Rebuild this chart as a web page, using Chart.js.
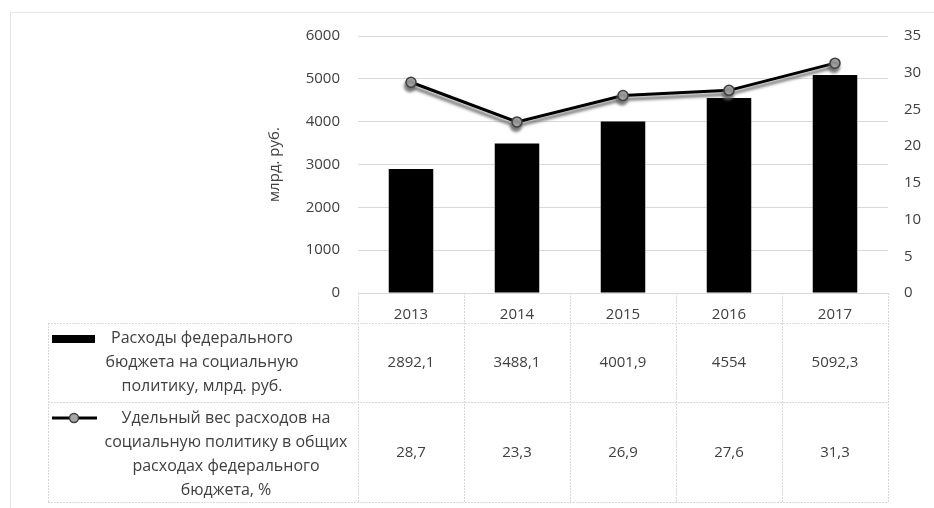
<!DOCTYPE html>
<html>
<head>
<meta charset="utf-8">
<script src="https://cdn.jsdelivr.net/npm/chart.js@4"></script>
<style>
  body { margin: 0; background: #fff; }
  #wrap { position: relative; width: 934px; height: 508px; }
</style>
</head>
<body>
<div id="wrap"><canvas id="chart" width="934" height="508"></canvas></div>
<script>
const years = ['2013', '2014', '2015', '2016', '2017'];
const spending = [2892.1, 3488.1, 4001.9, 4554, 5092.3];
const share = [28.7, 23.3, 26.9, 27.6, 31.3];
const spendingLabel = ['Расходы федерального', 'бюджета на социальную', 'политику, млрд. руб.'];
const shareLabel = ['Удельный вес расходов на', 'социальную политику в общих', 'расходах федерального', 'бюджета, %'];

const textColor = '#404040';
const gridColor = '#d9d9d9';
const font = '"Open Sans", "Liberation Sans", sans-serif';

function fmt(v) {
  return String(v).replace('.', ',');
}

// line with grey drop shadow, like the Excel original
const shadowPlugin = {
  id: 'lineShadow',
  beforeDatasetDraw(chart, args) {
    if (args.index !== 1) return;
    const ctx = chart.ctx;
    ctx.save();
    ctx.shadowColor = 'rgba(100,100,100,0.9)';
    ctx.shadowOffsetX = -1;
    ctx.shadowOffsetY = 4;
    ctx.shadowBlur = 3;
  },
  afterDatasetDraw(chart, args) {
    if (args.index !== 1) return;
    chart.ctx.restore();
  }
};

// data table under the plot
const tablePlugin = {
  id: 'dataTable',
  afterDraw(chart) {
    const ctx = chart.ctx;
    const x = chart.scales.x;
    const area = chart.chartArea;
    const left = 48;
    const rowTop = area.bottom + 30;
    const rowMid = rowTop + 79;
    const rowBot = rowMid + 100;
    const step = x.getPixelForValue(1) - x.getPixelForValue(0);

    ctx.save();
    // outer frame
    ctx.strokeStyle = '#e6e6e6';
    ctx.lineWidth = 1;
    ctx.strokeRect(10.5, 12.5, 940, 520);

    ctx.strokeStyle = gridColor;
    ctx.setLineDash([2, 1]);
    ctx.beginPath();
    for (let i = 0; i <= years.length; i++) {
      const px = Math.round(x.getPixelForValue(i) - step / 2) + 0.5;
      ctx.moveTo(px, area.bottom);
      ctx.lineTo(px, rowBot);
    }
    ctx.moveTo(left + 0.5, rowTop);
    ctx.lineTo(left + 0.5, rowBot);
    [rowTop, rowMid, rowBot].forEach(y => {
      ctx.moveTo(left, y + 0.5);
      ctx.lineTo(area.right, y + 0.5);
    });
    ctx.stroke();
    ctx.setLineDash([]);

    ctx.fillStyle = textColor;
    ctx.font = '15px ' + font;
    ctx.textAlign = 'center';
    ctx.textBaseline = 'middle';
    spending.forEach((v, i) => ctx.fillText(fmt(v), x.getPixelForValue(i), rowTop + 40));
    share.forEach((v, i) => ctx.fillText(fmt(v), x.getPixelForValue(i), rowMid + 51));

    ctx.font = '16px ' + font;
    spendingLabel.forEach((t, i) => ctx.fillText(t, 202, rowTop + 15 + i * 24));
    shareLabel.forEach((t, i) => ctx.fillText(t, 226, rowMid + 16 + i * 24));

    // legend keys
    ctx.fillStyle = '#000';
    ctx.fillRect(52, rowTop + 12, 43, 8);
    const ky = rowMid + 16;
    ctx.strokeStyle = '#000';
    ctx.lineWidth = 3;
    ctx.beginPath();
    ctx.moveTo(52, ky);
    ctx.lineTo(97, ky);
    ctx.stroke();
    ctx.beginPath();
    ctx.arc(74, ky, 4.5, 0, Math.PI * 2);
    ctx.fillStyle = '#a6a6a6';
    ctx.fill();
    ctx.lineWidth = 1.5;
    ctx.strokeStyle = '#404040';
    ctx.stroke();
    ctx.restore();
  }
};

const tickFont = { size: 15, family: font };

new Chart(document.getElementById('chart'), {
  data: {
    labels: years,
    datasets: [
      {
        type: 'bar',
        label: spendingLabel.join(' '),
        data: spending,
        backgroundColor: '#000',
        yAxisID: 'y',
        barPercentage: 0.42,
        categoryPercentage: 1,
        order: 2
      },
      {
        type: 'line',
        label: shareLabel.join(' '),
        data: share,
        borderColor: '#000',
        borderWidth: 3,
        pointRadius: 5,
        pointBackgroundColor: '#a6a6a6',
        pointBorderColor: '#404040',
        pointBorderWidth: 1.5,
        yAxisID: 'y1',
        order: 1
      }
    ]
  },
  options: {
    responsive: false,
    animation: false,
    layout: { padding: { left: 266, top: 36, right: 0, bottom: 0 } },
    plugins: { legend: { display: false }, tooltip: { enabled: false } },
    scales: {
      x: {
        grid: { display: false },
        border: { color: gridColor },
        ticks: { color: textColor, font: tickFont, padding: 5 },
        afterFit(scale) { scale.height = 508 - 293; }
      },
      y: {
        position: 'left',
        min: 0, max: 6000,
        ticks: { stepSize: 1000, color: textColor, font: tickFont, padding: 18, callback: v => String(v) },
        grid: { color: gridColor, drawTicks: false },
        border: { display: false },
        title: { display: true, text: 'млрд. руб.', color: textColor, font: { size: 15, family: font }, padding: { top: 0, bottom: 0 } },
        afterFit(scale) { scale.width = 358 - 266; }
      },
      y1: {
        position: 'right',
        min: 0, max: 35,
        ticks: { stepSize: 5, color: textColor, font: tickFont, padding: 16 },
        grid: { display: false, drawTicks: false },
        border: { display: false },
        afterFit(scale) { scale.width = 934 - 888; }
      }
    }
  },
  plugins: [shadowPlugin, tablePlugin]
});
</script>
</body>
</html>
